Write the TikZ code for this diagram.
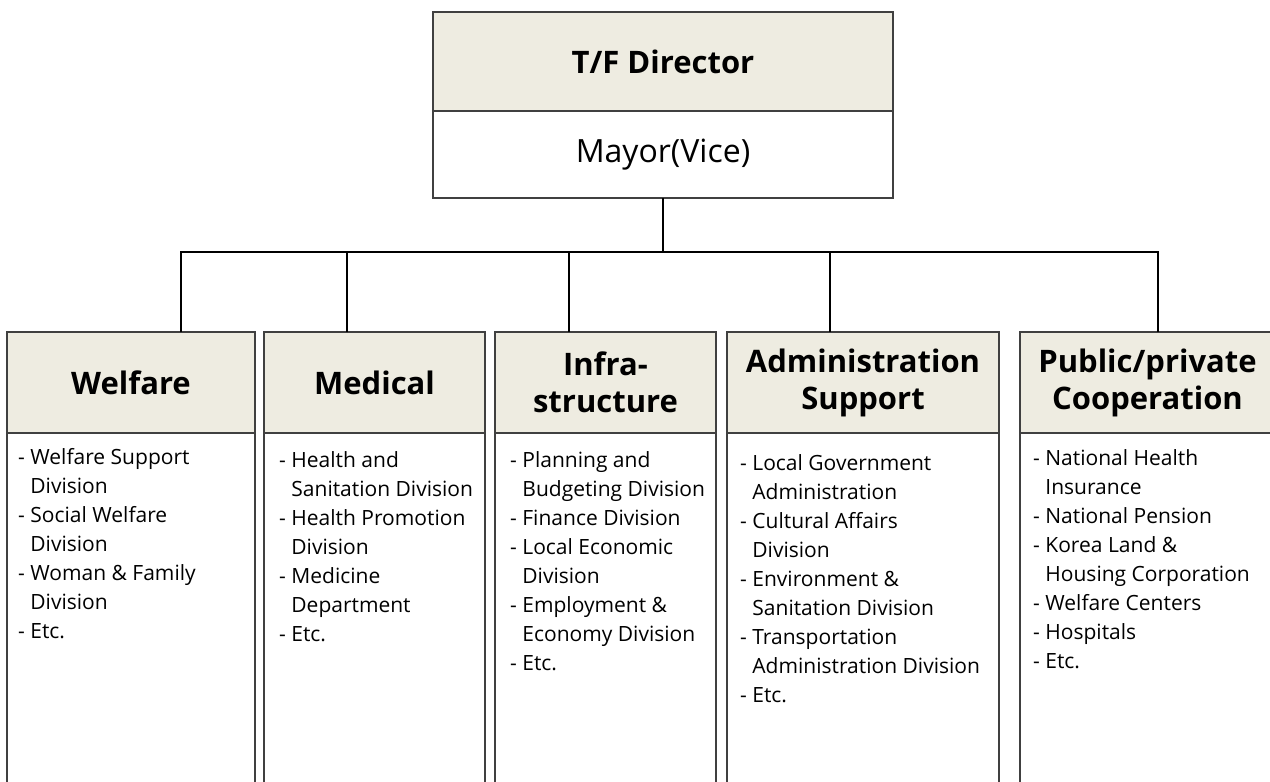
\documentclass[tikz,border=0pt]{standalone}
\usepackage{fontspec}
\setmainfont{Open Sans}
\usepackage{tikz}
\usetikzlibrary{positioning}
\definecolor{headfill}{HTML}{EEECE1}
\definecolor{boxgray}{HTML}{404040}
\newcommand{\ind}{\phantom{- }}

\begin{document}
\begin{tikzpicture}[x=1pt,y=-1pt]
\tikzstyle{head}=[draw=boxgray,line width=1.4pt,fill=headfill,align=center,inner sep=0pt,outer sep=0pt,font=\bfseries\fontsize{31}{37}\selectfont]
\tikzstyle{body}=[draw=boxgray,line width=1.4pt,fill=white,inner sep=0pt,outer sep=0pt,minimum height=367pt]
\tikzstyle{items}=[align=left,inner sep=0pt,font=\fontsize{21}{29}\selectfont]
\tikzstyle{link}=[line width=2.8pt,black]
\useasboundingbox (0,0) rectangle (1270,782);
\clip (0,0) rectangle (1270,782);
\node[head,minimum width=460pt,minimum height=99pt] (tf) at (663,61.5) {T/F Director};
\node[body,minimum width=460pt,minimum height=87pt,below=0pt of tf,font=\fontsize{32}{38}\selectfont] (mayor) {Mayor(Vice)};
\node[head,minimum width=248pt,minimum height=101pt] (welfare) at (131,382.5) {Welfare};
\node[head,minimum width=221pt,minimum height=101pt] (medical) at (374.5,382.5) {Medical};
\node[head,minimum width=221pt,minimum height=101pt] (infra) at (605.5,382.5) {Infra-\\structure};
\node[head,minimum width=272pt,minimum height=101pt] (admin) at (863,382.5) {Administration\\Support};
\node[head,minimum width=255pt,minimum height=101pt] (public) at (1147.5,382.5) {Public/private\\Cooperation};
\node[body,minimum width=248pt,below=0pt of welfare] (welfarebox) {};
\node[body,minimum width=221pt,below=0pt of medical] (medicalbox) {};
\node[body,minimum width=221pt,below=0pt of infra] (infrabox) {};
\node[body,minimum width=272pt,below=0pt of admin] (adminbox) {};
\node[body,minimum width=255pt,below=0pt of public] (publicbox) {};
\node[items,below right=15pt and 11pt of welfarebox.north west] (welfarelist) {- Welfare Support\\\ind Division\\- Social Welfare\\\ind Division\\- Woman \& Family\\\ind Division\\- Etc.};
\node[items,below right=18.5pt and 15pt of medicalbox.north west] (medicallist) {- Health and\\\ind Sanitation Division\\- Health Promotion\\\ind Division\\- Medicine\\\ind Department\\- Etc.};
\node[items,below right=18.5pt and 15pt of infrabox.north west] (infralist) {- Planning and\\\ind Budgeting Division\\- Finance Division\\- Local Economic\\\ind Division\\- Employment \&\\\ind Economy Division\\- Etc.};
\node[items,below right=21.5pt and 13pt of adminbox.north west] (adminlist) {- Local Government\\\ind Administration\\- Cultural Affairs\\\ind Division\\- Environment \&\\\ind Sanitation Division\\- Transportation\\\ind Administration Division\\- Etc.};
\node[items,below right=16.5pt and 13pt of publicbox.north west] (publiclist) {- National Health\\\ind Insurance\\- National Pension\\- Korea Land \&\\\ind Housing Corporation\\- Welfare Centers\\- Hospitals\\- Etc.};
\coordinate (wtap) at (181,252);
\coordinate (mtap) at (347,252);
\coordinate (itap) at (569,252);
\coordinate (atap) at (830,252);
\coordinate (ptap) at (1158,252);
\draw[link] (mayor.south) -- (mayor.south |- wtap);
\draw[link] (wtap |- welfare.north) -- (wtap) -- (ptap) -- (ptap |- public.north);
\draw[link] (mtap) -- (mtap |- medical.north);
\draw[link] (itap) -- (itap |- infra.north);
\draw[link] (atap) -- (atap |- admin.north);
\end{tikzpicture}
\end{document}
